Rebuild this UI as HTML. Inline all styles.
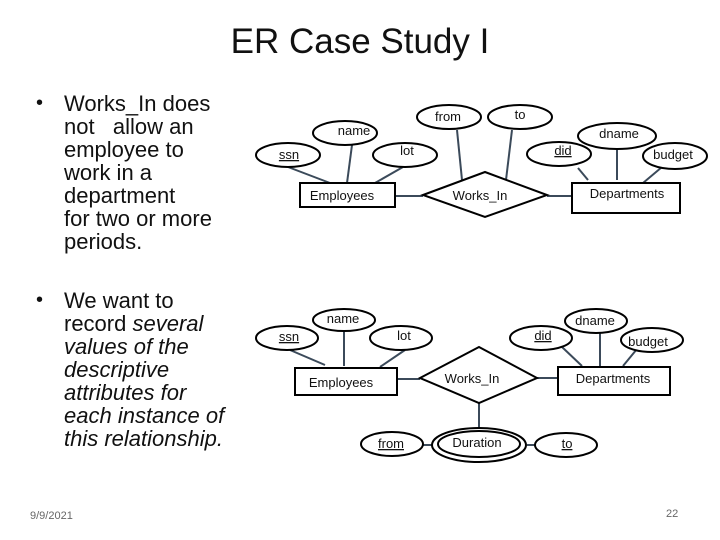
<!DOCTYPE html>
<html><head><style>
body{margin:0;width:720px;height:540px;background:#fff;position:relative;overflow:hidden;font-family:"Liberation Sans",sans-serif;}
.t{position:absolute;left:0;width:720px;top:22px;text-align:center;font-size:35px;color:#111;}
.b{position:absolute;left:40px;font-size:22px;line-height:23px;color:#111;}
.b .d{position:absolute;left:-4px;top:0;font-size:20px}
.b div{padding-left:24px}
</style></head><body>
<div class="t">ER Case Study I</div>
<div class="b" style="top:92px"><span class="d">•</span>
<div>Works_In does<br>not &nbsp; allow an<br>employee to<br>work in a<br>department<br>for two or more<br>periods.</div></div>
<div class="b" style="top:289px"><span class="d">•</span>
<div>We want to<br>record <i>several<br>values of the<br>descriptive<br>attributes for<br>each instance of<br>this relationship.</i></div></div>
<div style="position:absolute;left:30px;top:510px;font-size:11px;color:#666">9/9/2021</div>
<div style="position:absolute;left:666px;top:508px;font-size:11px;color:#666">22</div>
<svg width="720" height="540" style="position:absolute;left:0;top:0" font-family="Liberation Sans, sans-serif" font-size="13" fill="none">
<g stroke="#3b4a5a" stroke-width="2">
<line x1="288" y1="167" x2="330" y2="183"/><line x1="352" y1="145" x2="347" y2="183"/><line x1="403" y1="167" x2="375" y2="183"/>
<line x1="395" y1="196" x2="423" y2="196"/><line x1="457" y1="130" x2="462" y2="180"/><line x1="512" y1="130" x2="506" y2="180"/>
<line x1="547" y1="196" x2="572" y2="196"/><line x1="578" y1="168" x2="588" y2="180"/><line x1="617" y1="150" x2="617" y2="180"/><line x1="662" y1="167" x2="643" y2="183"/>
<line x1="290" y1="350" x2="325" y2="365"/><line x1="344" y1="331" x2="344" y2="366"/><line x1="405" y1="350" x2="380" y2="367"/>
<line x1="397" y1="379" x2="420" y2="379"/><line x1="479" y1="403" x2="479" y2="430"/><line x1="423" y1="445" x2="432" y2="445"/><line x1="527" y1="445" x2="535" y2="445"/>
<line x1="537" y1="378" x2="558" y2="378"/><line x1="562" y1="347" x2="582" y2="366"/><line x1="600" y1="333" x2="600" y2="366"/><line x1="637" y1="349" x2="623" y2="366"/>
</g>
<g stroke="#000" stroke-width="2" fill="#fff">
<ellipse cx="288" cy="155" rx="32" ry="12"/><ellipse cx="345" cy="133" rx="32" ry="12"/><ellipse cx="405" cy="155" rx="32" ry="12"/>
<ellipse cx="449" cy="117" rx="32" ry="12"/><ellipse cx="520" cy="117" rx="32" ry="12"/>
<ellipse cx="559" cy="154" rx="32" ry="12"/><ellipse cx="617" cy="136" rx="39" ry="13"/><ellipse cx="675" cy="156" rx="32" ry="13"/>
<rect x="300" y="183" width="95" height="24"/><polygon points="423,195 485,172 547,195 485,217"/><rect x="572" y="183" width="108" height="30"/>
<ellipse cx="287" cy="338" rx="31" ry="12"/><ellipse cx="344" cy="320" rx="31" ry="11"/><ellipse cx="401" cy="338" rx="31" ry="12"/>
<rect x="295" y="368" width="102" height="27"/><polygon points="420,378 479,347 537,378 479,403"/><rect x="558" y="367" width="112" height="28"/>
<ellipse cx="541" cy="338" rx="31" ry="12"/><ellipse cx="596" cy="321" rx="31" ry="12"/><ellipse cx="652" cy="340" rx="31" ry="12"/>
<ellipse cx="392" cy="444" rx="31" ry="12"/><ellipse cx="479" cy="445" rx="47" ry="17"/><ellipse cx="479" cy="444" rx="41" ry="13"/><ellipse cx="566" cy="445" rx="31" ry="12"/>
</g>
<g fill="#111" text-anchor="middle">
<text x="289" y="159" text-decoration="underline">ssn</text><text x="354" y="135">name</text><text x="407" y="155">lot</text>
<text x="448" y="121">from</text><text x="520" y="119">to</text><text x="563" y="155" text-decoration="underline">did</text>
<text x="619" y="138">dname</text><text x="673" y="159">budget</text>
<text x="342" y="200">Employees</text><text x="480" y="200">Works_In</text><text x="627" y="198">Departments</text>
<text x="289" y="341" text-decoration="underline">ssn</text><text x="343" y="323">name</text><text x="404" y="340">lot</text>
<text x="341" y="387">Employees</text><text x="472" y="383">Works_In</text><text x="613" y="383">Departments</text>
<text x="543" y="340" text-decoration="underline">did</text><text x="595" y="325">dname</text><text x="648" y="346">budget</text>
<text x="391" y="448" text-decoration="underline">from</text><text x="477" y="447">Duration</text><text x="567" y="448" text-decoration="underline">to</text>
</g>
</svg>
</body></html>
